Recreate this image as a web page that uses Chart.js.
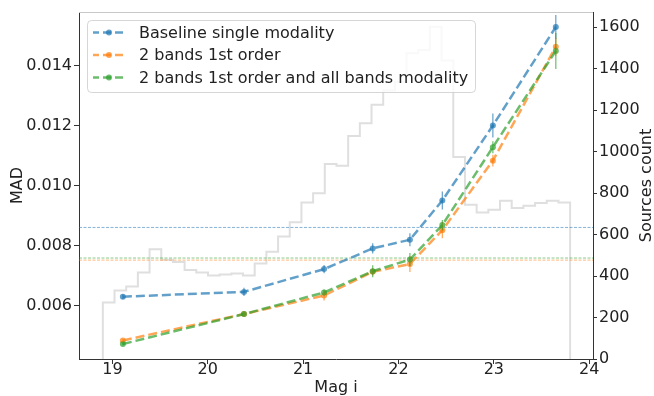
<!DOCTYPE html>
<html>
<head>
<meta charset="utf-8">
<script src="https://cdn.jsdelivr.net/npm/chart.js@4.4.0/dist/chart.umd.min.js"></script>
<style>
  html, body { margin: 0; padding: 0; background: #fff; }
  #wrap { width: 654px; height: 396px; }
</style>
</head>
<body>
<div id="wrap"><canvas id="madChart" width="654" height="396"></canvas></div>
<script>
// magnitude where each MAD point was measured
const magPoints = [19.11, 20.38, 21.22, 21.73, 22.12, 22.46, 22.99, 23.65];

// MAD per series
const baselineMad = [0.00629, 0.00645, 0.00721, 0.00790, 0.00819, 0.00950, 0.01200, 0.01529];
const bandsMad    = [0.00483, 0.00571, 0.00633, 0.00712, 0.00738, 0.00851, 0.01083, 0.01463];
const allBandsMad = [0.00471, 0.00571, 0.00643, 0.00714, 0.00753, 0.00868, 0.01128, 0.01449];

// error bar half heights
const baselineErr = [0.00008, 0.00014, 0.00014, 0.00017, 0.00022, 0.00030, 0.00040, 0.00040];
const bandsErr    = [0.00005, 0.00006, 0.00017, 0.00012, 0.00027, 0.00027, 0.00020, 0.00030];
const allBandsErr = [0.00005, 0.00008, 0.00010, 0.00020, 0.00022, 0.00017, 0.00020, 0.00060];

// overall MAD levels (dotted lines)
const baselineLevel = 0.00860;
const bandsLevel    = 0.00751;
const allBandsLevel = 0.00758;

// histogram of sources per magnitude bin
const histStart = 18.9;
const histWidth = 0.1225;
const histCounts = [273, 331, 350, 417, 530, 479, 468, 429, 417, 403,
                    408, 413, 403, 461, 517, 591, 660, 755, 800, 941,
                    932, 1076, 1137, 1226, 1295, 1338, 1475, 1491, 1603, 1440,
                    974, 744, 707, 720, 763, 729, 739, 752, 763, 755];

// axes
const magMin = 18.65, magMax = 24.04;
const magTicks = [19, 20, 21, 22, 23, 24];
const madMin = 0.00421, madMax = 0.01579;
const madTicks = [0.006, 0.008, 0.010, 0.012, 0.014];
const countMax = 1674;
const countTicks = [0, 200, 400, 600, 800, 1000, 1200, 1400, 1600];

const labels = ['Baseline single modality', '2 bands 1st order', '2 bands 1st order and all bands modality'];
const colors = ['rgba(31,119,180,0.7)', 'rgba(255,127,14,0.7)', 'rgba(44,160,44,0.7)'];
const levelColors = ['rgba(31,119,180,0.55)', 'rgba(255,127,14,0.55)', 'rgba(44,160,44,0.55)'];

const toPoints = vals => vals.map((v, i) => ({x: magPoints[i], y: v}));
const levelLine = v => [{x: magMin, y: v}, {x: magMax, y: v}];

// step outline: start edge of every bin, closed down to zero at both ends
const histPoints = [{x: histStart, y: 0}];
histCounts.forEach((c, i) => histPoints.push({x: histStart + i * histWidth, y: c}));
histPoints.push({x: histStart + histCounts.length * histWidth, y: 0});

function seriesSet(i, vals, errs, order) {
  return {
    label: labels[i], data: toPoints(vals), errors: errs, order: order,
    borderColor: colors[i], backgroundColor: colors[i],
    borderWidth: 2.5, borderDash: [9, 4], pointRadius: 3, pointBorderWidth: 0,
    yAxisID: 'y'
  };
}
function levelSet(i, v) {
  return {
    data: levelLine(v), order: 4, borderColor: levelColors[i], borderWidth: 1,
    borderDash: [3, 1.5], pointRadius: 0, yAxisID: 'y'
  };
}

Chart.defaults.font.family = "'DejaVu Sans', sans-serif";
Chart.defaults.font.size = 16;
Chart.defaults.color = '#222';

const errorBars = {
  id: 'errorBars',
  afterDatasetsDraw(chart) {
    const {ctx} = chart;
    const xs = chart.scales.x, ys = chart.scales.y;
    chart.data.datasets.forEach(ds => {
      if (!ds.errors) return;
      ctx.save();
      ctx.strokeStyle = ds.borderColor;
      ctx.lineWidth = 1.2;
      ds.data.forEach((p, j) => {
        const px = xs.getPixelForValue(p.x);
        ctx.beginPath();
        ctx.moveTo(px, ys.getPixelForValue(p.y - ds.errors[j]));
        ctx.lineTo(px, ys.getPixelForValue(p.y + ds.errors[j]));
        ctx.stroke();
      });
      ctx.restore();
    });
  }
};

// legend box inside the plot, right axis title, top frame line
const extras = {
  id: 'extras',
  afterDraw(chart) {
    const {ctx, chartArea: a} = chart;
    ctx.save();
    ctx.strokeStyle = '#c8c8c8';
    ctx.lineWidth = 1;
    ctx.beginPath();
    ctx.moveTo(a.left, a.top + 0.5);
    ctx.lineTo(a.right, a.top + 0.5);
    ctx.stroke();

    const bx = a.left + 8, by = a.top + 8, bw = 388, bh = 72;
    ctx.beginPath();
    ctx.roundRect(bx + 0.5, by + 0.5, bw, bh, 4);
    ctx.fillStyle = 'rgba(255,255,255,0.8)';
    ctx.fill();
    ctx.strokeStyle = 'rgba(204,204,204,0.8)';
    ctx.stroke();

    ctx.font = "16px 'DejaVu Sans'";
    ctx.textBaseline = 'middle';
    ctx.textAlign = 'left';
    labels.forEach((t, i) => {
      const cy = by + 12.5 + i * 22.5;
      ctx.strokeStyle = colors[i];
      ctx.fillStyle = colors[i];
      ctx.lineWidth = 2.5;
      ctx.setLineDash([8, 4]);
      ctx.lineDashOffset = 2;
      ctx.beginPath();
      ctx.moveTo(bx + 6, cy);
      ctx.lineTo(bx + 38, cy);
      ctx.stroke();
      ctx.setLineDash([]);
      ctx.beginPath();
      ctx.arc(bx + 22, cy, 3, 0, Math.PI * 2);
      ctx.fill();
      ctx.fillStyle = '#222';
      ctx.fillText(t, bx + 52, cy + 1);
    });

    ctx.translate(647, (a.top + a.bottom) / 2);
    ctx.rotate(-Math.PI / 2);
    ctx.textAlign = 'center';
    ctx.fillStyle = '#222';
    ctx.fillText('Sources count', 0, 0);
    ctx.restore();
  }
};

new Chart(document.getElementById('madChart'), {
  type: 'line',
  data: {
    datasets: [
      seriesSet(0, baselineMad, baselineErr, 3),
      seriesSet(1, bandsMad, bandsErr, 2),
      seriesSet(2, allBandsMad, allBandsErr, 1),
      levelSet(0, baselineLevel),
      levelSet(1, bandsLevel),
      levelSet(2, allBandsLevel),
      {
        data: histPoints, order: 5, stepped: 'before',
        borderColor: 'rgba(150,150,150,0.3)', borderWidth: 2,
        pointRadius: 0, yAxisID: 'y1'
      }
    ]
  },
  plugins: [errorBars, extras],
  options: {
    responsive: false,
    animation: false,
    events: [],
    layout: { padding: { top: 12, left: 0, right: 0, bottom: 0 } },
    plugins: { legend: { display: false }, tooltip: { enabled: false } },
    scales: {
      x: {
        type: 'linear', min: magMin, max: magMax,
        afterBuildTicks: s => { s.ticks = magTicks.map(v => ({value: v})); },
        afterFit: s => { s.height = 37; },
        grid: { drawOnChartArea: false, tickLength: 5, tickColor: '#333' },
        border: { color: '#333' },
        ticks: { padding: 0, font: { size: 16, lineHeight: 0.75 }, callback: v => String(v) },
        title: { display: true, text: 'Mag i', padding: 0, font: { size: 16, lineHeight: 1 } }
      },
      y: {
        type: 'linear', position: 'left', min: madMin, max: madMax,
        afterBuildTicks: s => { s.ticks = madTicks.map(v => ({value: v})); },
        afterFit: s => { s.width = 79; },
        grid: { drawOnChartArea: false, tickLength: 5, tickColor: '#333' },
        border: { color: '#333' },
        ticks: { padding: 2, callback: v => v.toFixed(3) },
        title: { display: true, text: 'MAD', padding: { top: 9.5, bottom: 0 }, font: { size: 16, lineHeight: 1 } }
      },
      y1: {
        type: 'linear', position: 'right', min: 0, max: countMax,
        afterBuildTicks: s => { s.ticks = countTicks.map(v => ({value: v})); },
        afterFit: s => { s.width = 61; },
        grid: { drawOnChartArea: false, tickLength: 4, tickColor: '#333' },
        border: { color: '#333' },
        ticks: { padding: 2, callback: v => String(v) }
      }
    }
  }
});
</script>
</body>
</html>
